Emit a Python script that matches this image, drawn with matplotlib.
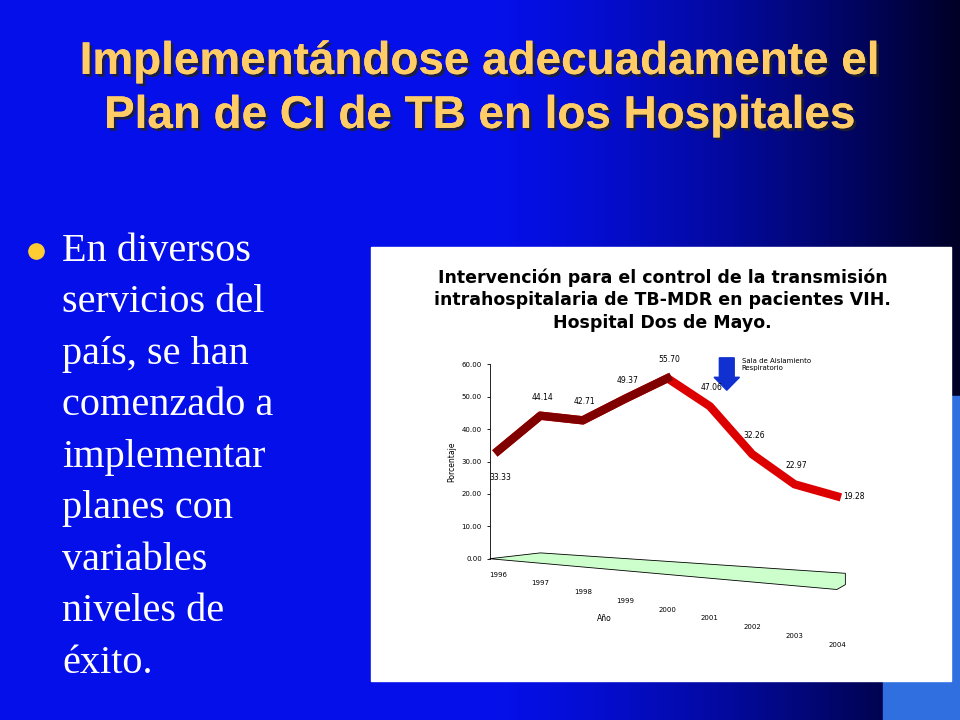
import numpy as np
import matplotlib.pyplot as plt
import matplotlib.patheffects as pe
from matplotlib.patches import Rectangle, Polygon, FancyArrow

years = [1996, 1997, 1998, 1999, 2000, 2001, 2002, 2003, 2004]
porcentaje = [33.33, 44.14, 42.71, 49.37, 55.70, 47.06, 32.26, 22.97, 19.28]
yticks = [0, 10, 20, 30, 40, 50, 60]

fig = plt.figure(figsize=(9.6, 7.2), dpi=100)

# fondo degradado azul
bg = fig.add_axes([0, 0, 1, 1])
gx = np.linspace(0, 1, 400)
gy = np.linspace(0, 1, 300)
X, Y = np.meshgrid(gx, gy)
t = np.clip((X - 0.5) / 0.5, 0, 1) ** 1.4
r = 0.02 * (1 - t)
g = 0.06 * (1 - t)
b = 0.92 * (1 - t) + 0.15 * t
bg.imshow(np.dstack([r, g, b]), extent=[0, 1, 0, 1], aspect='auto', origin='lower')
bg.add_patch(Rectangle((0.92, 0.0), 0.08, 0.45, color='#2f6fe0', zorder=1))
bg.set_xlim(0, 1)
bg.set_ylim(0, 1)
bg.axis('off')

# título
sombra = [pe.withSimplePatchShadow(offset=(2, -2), shadow_rgbFace='#222222', alpha=0.8), pe.Normal()]
fig.text(0.5, 0.914, "Implementándose adecuadamente el", ha='center', va='center',
         fontsize=33, fontweight='bold', color='#ffcc66', family='Liberation Sans',
         path_effects=sombra)
fig.text(0.5, 0.839, "Plan de CI de TB en los Hospitales", ha='center', va='center',
         fontsize=33, fontweight='bold', color='#ffcc66', family='Liberation Sans',
         path_effects=sombra)

# viñeta
bg.plot([0.037], [0.651], 'o', color='#ffcc33', ms=11)
lines = ["En diversos", "servicios del", "país, se han", "comenzado a",
         "implementar", "planes con", "variables", "niveles de", "éxito."]
for i, s in enumerate(lines):
    fig.text(0.065, 0.651 - i * 0.0715, s, va='center', fontsize=29, color='white',
             family='Liberation Serif')

# panel blanco
bg.add_patch(Rectangle((371 / 960, 1 - 681 / 720), 580 / 960, 434 / 720,
                       color='white', zorder=2))
fig.text(0.69, 0.583, "Intervención para el control de la transmisión\n"
         "intrahospitalaria de TB-MDR en pacientes VIH.\nHospital Dos de Mayo.",
         ha='center', va='center', fontsize=12.5, fontweight='bold', linespacing=1.35)

ax = fig.add_axes([0.51, 0.224, 0.375, 0.27])
ax.patch.set_alpha(0)
# piso verde
ax.add_patch(Polygon([(1995.8, 0), (1997, 1.8), (2004.2, -4.5), (2004.2, -8), (2004, -9.5)],
                     closed=True, facecolor='#ccffcc', edgecolor='black', lw=0.6,
                     clip_on=False))
ax.plot(years, porcentaje, color='#dd0000', lw=6, solid_joinstyle='miter')
ax.plot(years[:5], porcentaje[:5], color='#800000', lw=6)
for x, v in zip(years, porcentaje):
    off = -9 if x == 1996 else 5
    if x == 2004:
        ax.text(x + 0.15, v, f"{v:.2f}", fontsize=5.5, va='center')
    else:
        ax.text(x + 0.05, v + off, f"{v:.2f}", fontsize=5.5, ha='center')
ax.set_xlim(1995.8, 2004.3)
ax.set_ylim(0, 60)
ax.set_yticks(yticks)
ax.set_yticklabels([f"{v:.2f}" for v in yticks], fontsize=5)
ax.set_xticks([])
for i, x in enumerate(years):
    ax.text(x, -4 - i * 2.7, str(x), fontsize=5, ha='center', va='top')
ax.text(1998.5, -17, "Año", fontsize=5.5, ha='center', va='top')
ax.set_ylabel("Porcentaje", fontsize=5.5)
for s in ['top', 'right', 'bottom']:
    ax.spines[s].set_visible(False)
ax.spines['left'].set_linewidth(0.6)
ax.tick_params(axis='y', length=2, width=0.6)

# flecha
ax.add_patch(FancyArrow(2001.4, 62, 0, -10, width=0.35, head_width=0.6, head_length=4,
                        length_includes_head=True, color='#1030d0', clip_on=False))
ax.text(2001.75, 60, "Sala de Aislamiento\nRespiratorio", fontsize=5, va='center')

fig.savefig("out.png", dpi=100)
